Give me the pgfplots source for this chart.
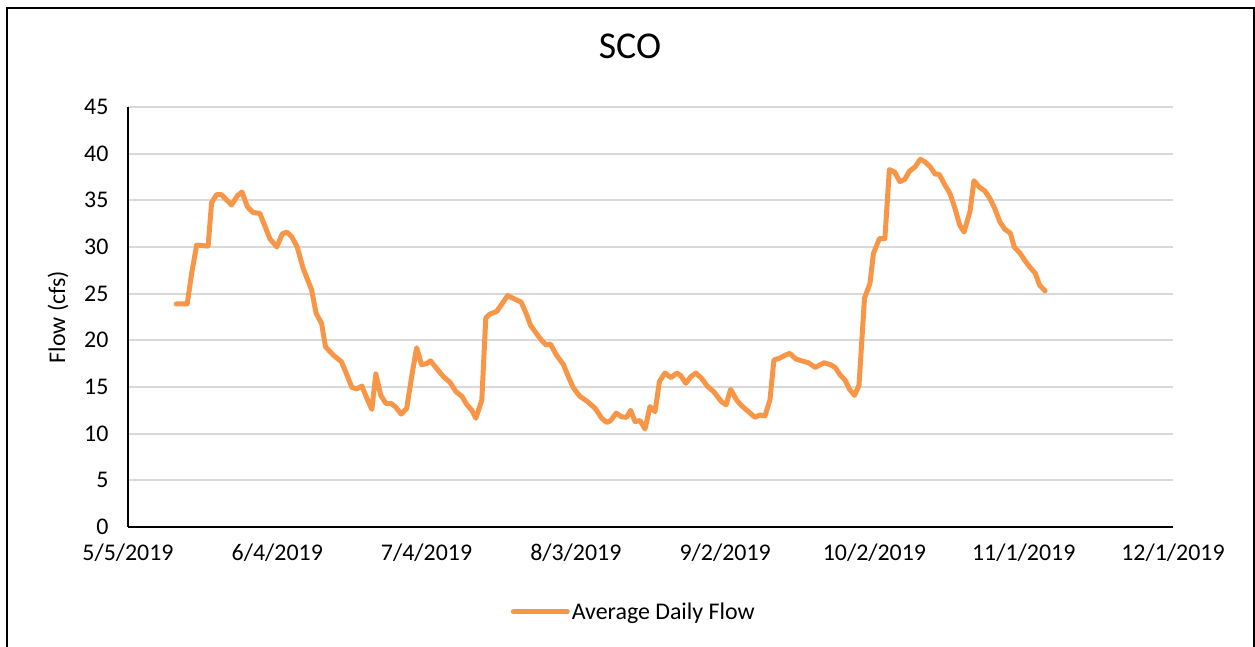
\documentclass[border=0pt]{standalone}
\usepackage{pgfplots}
\pgfplotsset{compat=1.18}
\usepackage{fontspec}
\setmainfont{Carlito}
\definecolor{flow}{HTML}{F79646}
\definecolor{gridgray}{HTML}{D9D9D9}
\begin{document}
\begin{tikzpicture}[x=1bp,y=1bp]
\path[use as bounding box] (0,0) rectangle (1255,647);
\draw[line width=2bp] (7,-5) -- (7,639) -- (1254,639) -- (1254,-5);
\begin{axis}[
  at={(128bp,120bp)}, anchor=south west,
  scale only axis, width=1045bp, height=420bp,
  xmin=0, xmax=210, ymin=0, ymax=45,
  xtick={0,30,60,90,120,150,180,210},
  xticklabels={5/5/2019,6/4/2019,7/4/2019,8/3/2019,9/2/2019,10/2/2019,11/1/2019,12/1/2019},
  ytick={0,5,...,45},
  major tick length=0pt,
  axis x line*=bottom, axis y line*=left,
  axis line style={black, line width=1.4bp, -},
  ymajorgrids, grid style={draw=gridgray, line width=1.7bp},
  /pgf/number format/assume math mode=true,
  tick label style={font=\fontsize{24}{28}\selectfont},
  yticklabel style={xshift=-16bp},
  xticklabel style={yshift=-13bp},
  ylabel={Flow (cfs)},
  ylabel style={font=\fontsize{24}{28}\selectfont, at={(axis description cs:-0.067,0.5)}, anchor=center},
  title={SCO},
  title style={font=\fontsize{38}{44}\selectfont, at={(axis description cs:0.4804,1.131)}, anchor=center},
  legend style={at={(axis description cs:0.484,-0.202)}, anchor=center, draw=none, fill=none,
    font=\fontsize{24}{28}\selectfont, inner sep=0pt},
  legend image code/.code={\draw[#1] (0bp,0bp) -- (54bp,0bp);},
  clip=false,
]
\addplot[flow, line width=5bp, line join=round, line cap=round] coordinates {
(9.7,23.9) (11.9,23.9) (12.8,27.2) (13.8,30.2) (16.1,30.1) (16.8,34.75) (17.8,35.6) (18.8,35.6) (20.8,34.5) (22.0,35.5) (22.9,35.9) (24.0,34.3) (25.1,33.7) (26.5,33.6) (28.5,30.9) (29.9,30.0) (31.0,31.4) (31.9,31.6) (32.9,31.1) (34.0,30.0) (35.2,27.7) (36.9,25.4) (37.8,22.9) (38.9,21.8) (39.7,19.3) (41.3,18.4) (42.9,17.7) (43.6,16.8) (45.0,14.95) (46.0,14.8) (47.0,15.1) (48.0,13.8) (49.0,12.6) (49.8,16.4) (50.8,14.1) (51.8,13.25) (52.8,13.25) (53.7,12.9) (54.9,12.1) (56.0,12.7) (57.0,16.1) (58.0,19.2) (59.0,17.4) (60.0,17.5) (60.8,17.8) (62.0,17.0) (63.4,16.1) (64.7,15.5) (65.9,14.5) (67.1,14.0) (68.1,13.1) (69.1,12.5) (69.9,11.65) (71.1,13.6) (71.9,22.4) (72.7,22.8) (74.1,23.1) (75.4,24.1) (76.3,24.8) (77.4,24.5) (79.0,24.1) (80.0,22.9) (80.9,21.6) (82.8,20.2) (84.0,19.5) (84.9,19.6) (86.0,18.5) (87.5,17.4) (88.5,16.1) (89.5,14.9) (90.8,14.0) (92.2,13.5) (93.9,12.7) (95.2,11.65) (96.2,11.2) (97.0,11.4) (98.1,12.2) (99.2,11.8) (100.2,11.75) (101.0,12.5) (101.9,11.3) (102.9,11.4) (103.9,10.5) (104.9,12.9) (105.9,12.35) (106.8,15.6) (107.9,16.5) (109.1,16.0) (110.3,16.5) (111.1,16.2) (112.1,15.4) (113.1,16.1) (114.1,16.5) (115.3,15.9) (116.4,15.1) (117.7,14.5) (119.3,13.4) (120.2,13.1) (121.1,14.75) (122.3,13.6) (123.3,13.0) (124.7,12.35) (126.0,11.75) (127.0,12.0) (128.0,11.9) (129.0,13.6) (129.8,17.9) (131.0,18.1) (132.0,18.4) (133.0,18.6) (134.2,18.0) (135.4,17.8) (136.7,17.6) (138.1,17.1) (139.9,17.6) (141.1,17.4) (142.1,17.1) (143.1,16.3) (144.1,15.75) (145.0,14.75) (146.0,14.1) (146.9,15.2) (148.0,24.5) (149.1,26.1) (149.8,29.3) (151.0,30.9) (152.1,30.9) (153.0,38.3) (154.1,38.0) (155.1,37.0) (156.1,37.25) (157.0,38.1) (158.2,38.6) (159.2,39.4) (160.2,39.1) (161.2,38.6) (162.2,37.8) (163.0,37.8) (164.0,36.8) (165.2,35.7) (166.2,34.1) (167.1,32.4) (168.0,31.6) (169.2,33.8) (170.0,37.1) (171.1,36.4) (172.2,36.0) (173.2,35.2) (174.2,34.1) (175.2,32.7) (176.2,31.9) (177.3,31.5) (178.1,30.0) (179.3,29.3) (180.3,28.5) (181.3,27.8) (182.3,27.2) (183.2,25.9) (184.3,25.3)
};
\addlegendentry{Average Daily Flow}
\end{axis}
\end{tikzpicture}
\end{document}
